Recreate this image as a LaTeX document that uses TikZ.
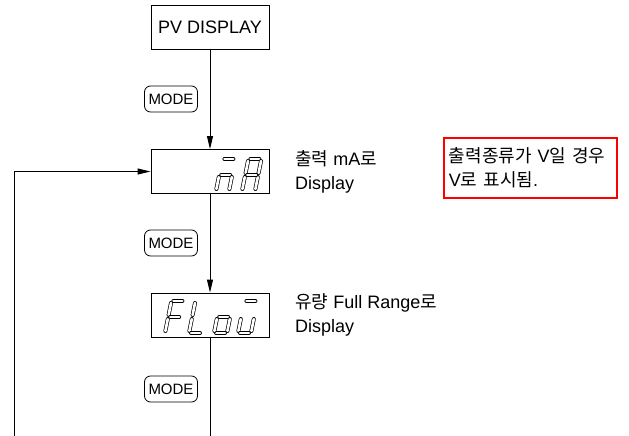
\documentclass[tikz,border=0pt]{standalone}
\usepackage{fontspec}
\setmainfont{Liberation Sans}
\newfontfamily\kr{Noto Sans CJK KR}
\usetikzlibrary{arrows.meta}
\tikzset{
  box/.style={draw,line width=0.9pt,minimum width=118pt,minimum height=44pt,inner sep=0pt},
  modekey/.style={draw,rounded corners=6pt,line width=0.8pt,minimum width=53pt,minimum height=26pt,inner sep=0pt,font=\fontsize{15}{18}\selectfont},
  note/.style={anchor=west,align=left,inner sep=0pt,font=\fontsize{18}{24}\selectfont},
  flow/.style={line width=0.9pt,-{Triangle[length=13pt,width=6pt]}},
  segline/.style={line width=0.7pt,double distance=2.6pt,line cap=round}
}
\pgfkeys{/segs/.cd,
  a/.code={\draw[segline] (2,-32) -- (11,-32);},
  g/.code={\draw[segline] (2,-16) -- (11,-16);},
  d/.code={\draw[segline] (2,0) -- (11,0);},
  f/.code={\draw[segline] (0,-30) -- (0,-18);},
  b/.code={\draw[segline] (13,-30) -- (13,-18);},
  e/.code={\draw[segline] (0,-14) -- (0,-2);},
  c/.code={\draw[segline] (13,-14) -- (13,-2);}
}
\newcommand\sevenseg[3]{\begin{scope}[shift={(#1,#2)},xslant=0.2]
  \foreach \s in {#3}{\edef\segcmd{\noexpand\pgfkeys{/segs/\s}}\segcmd}
\end{scope}}

\begin{document}
\begin{tikzpicture}[x=1pt,y=-1pt]
\useasboundingbox (0,0) rectangle (629,436);
\node[box,font=\fontsize{18}{24}\selectfont] (pv) at (210,27) {PV DISPLAY};
\node[box] (d1) at (210,171.5) {};
\node[box] (d2) at (210,315) {};
\node[modekey] (m1) at (171,99) {MODE};
\node[modekey] (m2) at (171,243) {MODE};
\node[modekey] (m3) at (171,389) {MODE};
\node[note] (t1) at (295,171.5) {{\kr 출력} mA{\kr 로}\\Display};
\node[note] (t2) at (295,315) {{\kr 유량} Full Range{\kr 로}\\Display};
\node[note,draw=red,line width=1.8pt,anchor=north west,minimum width=173pt,minimum height=60pt,text width=163pt,inner xsep=5pt] (warn) at (443,137) {{\kr 출력종류가} V{\kr 일 경우}\\V{\kr 로 표시됨}.};
\coordinate (bot) at (210,436);
\coordinate (loop) at (14,436);
\draw[flow] (pv) -- (d1);
\draw[flow] (d1) -- (d2);
\draw[line width=0.9pt] (d2) -- (bot);
\draw[flow] (loop) |- (d1);
\sevenseg{216}{191}{a,g,e,c}
\sevenseg{242}{191}{a,b,c,e,f,g}
\sevenseg{165}{333}{a,f,e,g}
\sevenseg{189}{333}{f,e,d}
\sevenseg{214}{333}{g,c,d,e}
\sevenseg{238}{333}{a,e,d,c}
\end{tikzpicture}
\end{document}
